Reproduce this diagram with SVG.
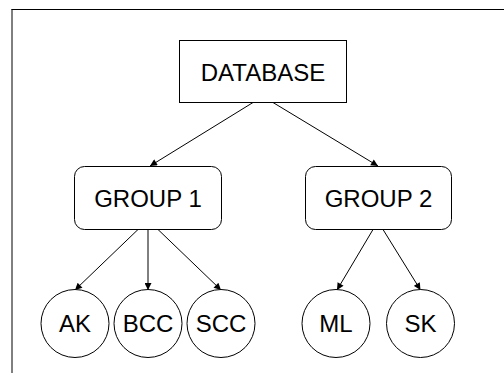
<svg xmlns="http://www.w3.org/2000/svg" width="504" height="373" viewBox="0 0 504 373">
<defs>
<style>
.n{fill:#fff;stroke:#000;stroke-width:1}
.t{font-family:"Liberation Sans",Arial,sans-serif;font-size:24px;fill:#000;text-anchor:middle}
.c{stroke:#000;stroke-width:1;fill:none;marker-end:url(#ah)}
</style>
<marker id="ah" viewBox="0 0 10 10" refX="10" refY="5" markerWidth="9" markerHeight="7" markerUnits="userSpaceOnUse" orient="auto">
<path d="M0,0 L10,5 L0,10 z" fill="#000"/>
</marker>
</defs>
<rect width="504" height="373" fill="#fff"/>
<g id="frame" stroke="#000" fill="none">
<line x1="12" y1="9" x2="12" y2="373" stroke-width="1"/>
<line x1="11.5" y1="9.5" x2="504" y2="9.5" stroke-width="1"/>
</g>
<g id="connectors">
<line class="c" x1="253" y1="102.5" x2="150" y2="166"/>
<line class="c" x1="273" y1="102.5" x2="378" y2="166"/>
<line class="c" x1="138" y1="229.5" x2="75" y2="290"/>
<line class="c" x1="148" y1="229.5" x2="148" y2="290"/>
<line class="c" x1="158" y1="229.5" x2="221" y2="290"/>
<line class="c" x1="373" y1="229.5" x2="337" y2="290"/>
<line class="c" x1="383" y1="229.5" x2="420.5" y2="290"/>
</g>
<g id="database">
<rect class="n" x="179.5" y="40.5" width="167" height="62"/>
<text class="t" x="263" y="81">DATABASE</text>
</g>
<g id="group1">
<rect class="n" x="74.5" y="166.5" width="147" height="63" rx="10"/>
<text class="t" x="148" y="206.5">GROUP 1</text>
</g>
<g id="group2">
<rect class="n" x="305.5" y="166.5" width="146" height="63" rx="10"/>
<text class="t" x="378.5" y="206.5">GROUP 2</text>
</g>
<g id="ak">
<circle class="n" cx="75" cy="323.5" r="34"/>
<text class="t" x="75" y="332">AK</text>
</g>
<g id="bcc">
<circle class="n" cx="148" cy="323.5" r="34"/>
<text class="t" x="148" y="332">BCC</text>
</g>
<g id="scc">
<circle class="n" cx="221" cy="323.5" r="34"/>
<text class="t" x="221" y="332">SCC</text>
</g>
<g id="ml">
<circle class="n" cx="336" cy="323.5" r="34"/>
<text class="t" x="336" y="332">ML</text>
</g>
<g id="sk">
<circle class="n" cx="420.5" cy="323.5" r="34"/>
<text class="t" x="420.5" y="332">SK</text>
</g>
</svg>
